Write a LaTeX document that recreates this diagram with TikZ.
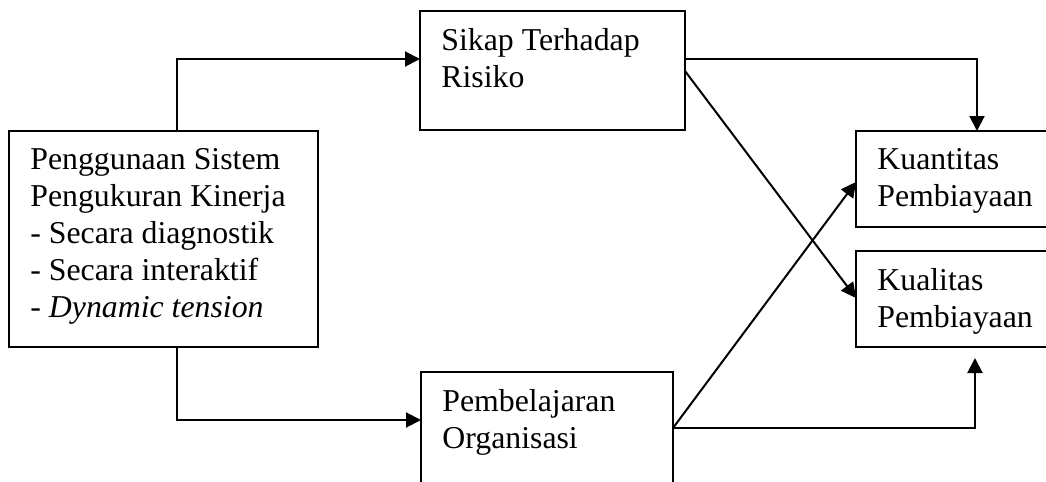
\documentclass[tikz,border=0pt]{standalone}
\usepackage{fontspec}
\setmainfont{Liberation Serif}
\usetikzlibrary{arrows.meta}

\tikzset{
    kotak/.style={draw, line width=1pt, anchor=north west, inner sep=0pt, outer sep=0pt},
    isi/.style={anchor=north west, align=left, inner xsep=10.5pt, inner ysep=8.5pt,
        font=\fontsize{15.9}{18.5}\selectfont},
    panah/.style={line width=1pt, -{Triangle[length=7.5pt,width=7.5pt]}}
}

\begin{document}
\begin{tikzpicture}[x=0.5pt, y=-0.5pt]
    \useasboundingbox (0,0) rectangle (1046,482);
    \clip (0,0) rectangle (1046,482);
    \node[kotak, minimum width=154.5pt, minimum height=108pt] (pengguna) at (9,131) {};
    \node[kotak, minimum width=132.5pt, minimum height=59.5pt] (sikap) at (420,11) {};
    \node[kotak, minimum width=126pt, minimum height=60pt] (pembelajaran) at (421,372) {};
    \node[kotak, minimum width=100pt, minimum height=48pt] (kuantitas) at (856,131) {};
    \node[kotak, minimum width=100pt, minimum height=48pt] (kualitas) at (856,251) {};
    \node[isi] (pengguna-isi) at (pengguna.north west)
        {Penggunaan Sistem\\Pengukuran Kinerja\\- Secara diagnostik\\- Secara interaktif\\- \textit{Dynamic tension}};
    \node[isi] (sikap-isi) at (sikap.north west) {Sikap Terhadap\\Risiko};
    \node[isi] (pembelajaran-isi) at (pembelajaran.north west) {Pembelajaran\\Organisasi};
    \node[isi] (kuantitas-isi) at (kuantitas.north west) {Kuantitas\\Pembiayaan};
    \node[isi] (kualitas-isi) at (kualitas.north west) {Kualitas\\Pembiayaan};
    \draw[panah] ([shift={(168,0)}]pengguna.north west) |- ([shift={(0,48)}]sikap.north west);
    \draw[panah] ([shift={(168,0)}]pengguna.south west) |- ([shift={(0,48)}]pembelajaran.north west);
    \draw[panah] ([shift={(0,48)}]sikap.north east) -| ([shift={(121,0)}]kuantitas.north west);
    \draw[panah] ([shift={(0,60)}]sikap.north east) -- ([shift={(0,47)}]kualitas.north west);
    \draw[panah] ([shift={(0,56)}]pembelajaran.north east) -- ([shift={(0,51)}]kuantitas.north west);
    \draw[panah] ([shift={(0,56)}]pembelajaran.north east) -| ([shift={(119,11)}]kualitas.south west);
\end{tikzpicture}
\end{document}
